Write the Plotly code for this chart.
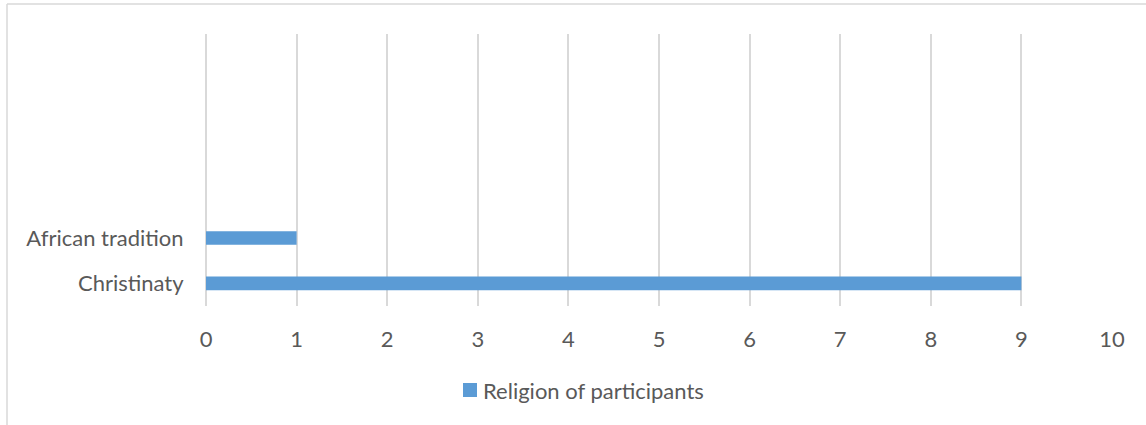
import plotly.graph_objects as go

categories = ["Christinaty", "African tradition"]
values = [9, 1]
empty_slots = [" ", "  ", "   ", "    "]
series_name = "Religion of participants"
x_ticks = [0, 1, 2, 3, 4, 5, 6, 7, 8, 9, 10]

W, H = 1146, 425
L, R, T, B = 206, 34, 34, 119
pw, ph = W - L - R, H - T - B
BAR_COLOR = "#5b9bd5"
GRID = "#d9d9d9"

fig = go.Figure()
fig.add_trace(go.Bar(
    y=categories, x=values, orientation="h", name=series_name,
    marker=dict(color=BAR_COLOR, line=dict(width=0)), width=0.3,
    showlegend=False,
))

font = dict(family="Lato, Open Sans, sans-serif", size=22, color="#595959")

fig.update_layout(
    width=W, height=H,
    margin=dict(l=L, r=R, t=T, b=B, pad=0),
    paper_bgcolor="white", plot_bgcolor="white",
    font=font,
    xaxis=dict(range=[0, 10], tickvals=x_ticks, showgrid=True, gridcolor=GRID,
               gridwidth=1.5, zeroline=True, zerolinecolor=GRID, zerolinewidth=1.5,
               showline=False, ticks="outside", ticklen=14, tickcolor="rgba(0,0,0,0)",
               tickfont=font, fixedrange=True),
    yaxis=dict(type="category", categoryorder="array",
               categoryarray=categories + empty_slots,
               range=[-0.5, 5.5], showgrid=False, zeroline=False, showline=False,
               ticks="outside", ticklen=17, tickcolor="rgba(0,0,0,0)", tickfont=font,
               fixedrange=True),
    showlegend=False,
)

def px_x(p):
    return (p - L) / pw

def px_y(p):
    return (H - B - p) / ph

# manual legend (square + label)
fig.add_shape(type="rect", xref="paper", yref="paper",
              x0=px_x(463), x1=px_x(477), y0=px_y(397), y1=px_y(383),
              fillcolor=BAR_COLOR, line=dict(width=0))
fig.add_annotation(xref="paper", yref="paper", x=px_x(481), y=px_y(390),
                   xanchor="left", yanchor="middle", showarrow=False,
                   text=series_name, font=font)

# outer frame (top and left edges)
fig.add_shape(type="line", xref="paper", yref="paper", x0=px_x(7), x1=px_x(W + 5),
              y0=px_y(4), y1=px_y(4), line=dict(color=GRID, width=1.5))
fig.add_shape(type="line", xref="paper", yref="paper", x0=px_x(7), x1=px_x(7),
              y0=px_y(4), y1=px_y(H + 5), line=dict(color=GRID, width=1.5))

fig.write_html("out.html")
